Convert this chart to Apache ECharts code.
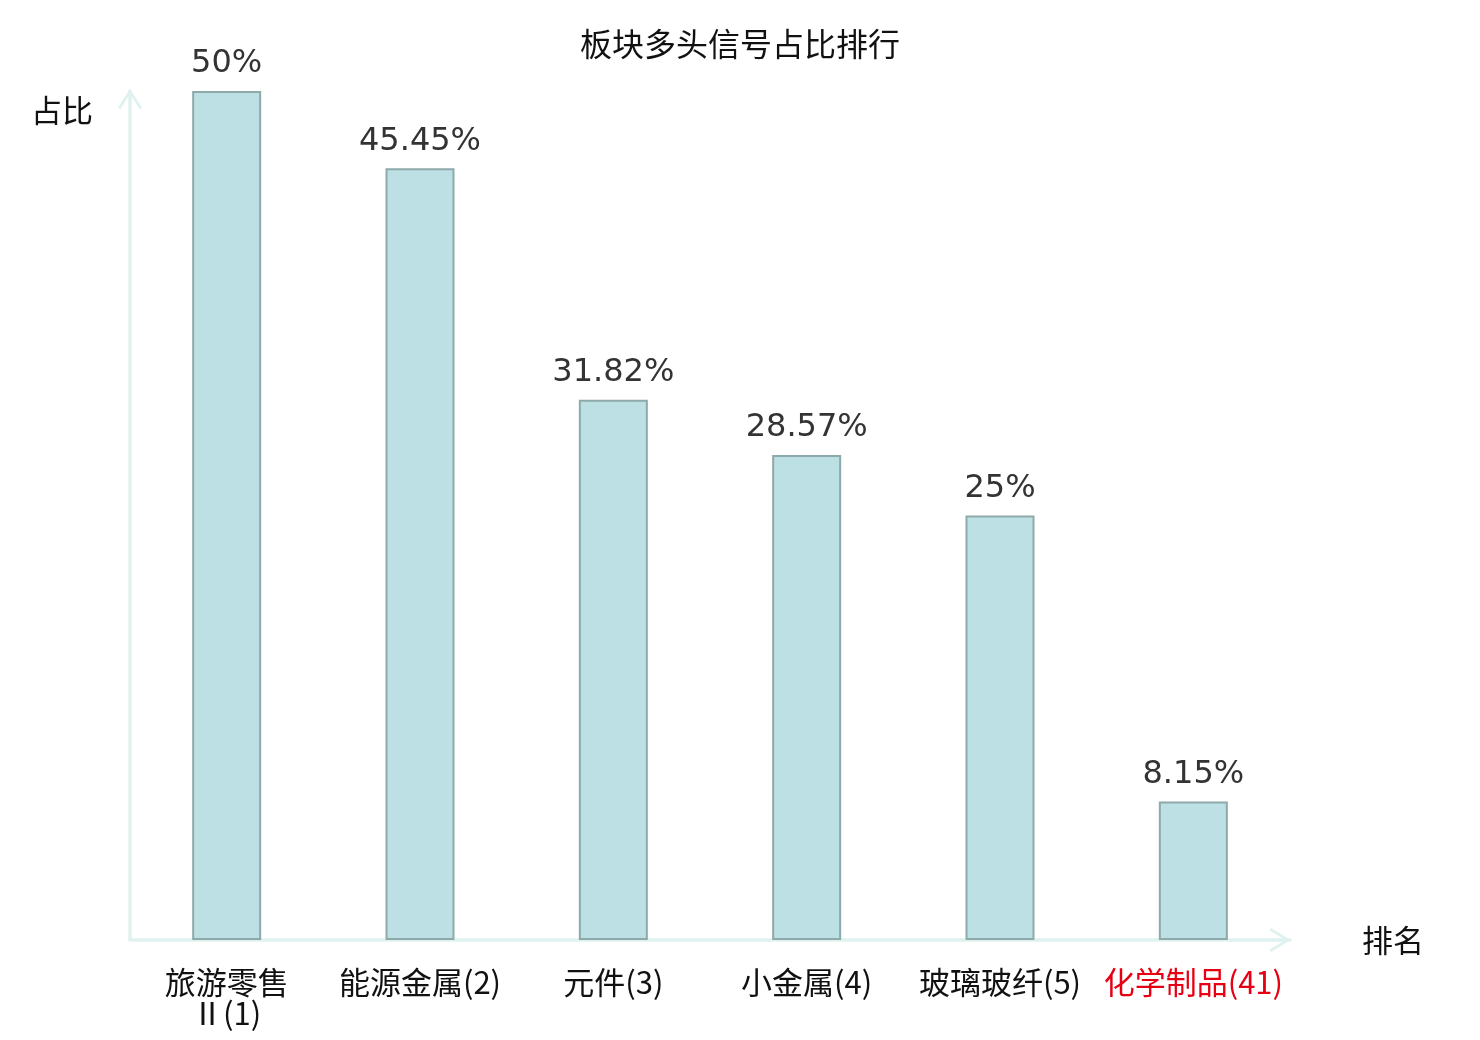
<!DOCTYPE html>
<html>
<head>
<meta charset="utf-8">
<script src="https://cdn.jsdelivr.net/npm/echarts@6/dist/echarts.min.js"></script>
<style>html,body{margin:0;padding:0;background:#fff}#c{width:1480px;height:1040px}</style>
</head>
<body>
<div id="c"></div>
<script>
const titleText = '板块多头信号占比排行';
const categories = ['旅游零售Ⅱ(1)', '能源金属(2)', '元件(3)', '小金属(4)', '玻璃玻纤(5)', '化学制品(41)'];
const values = [50, 45.45, 31.82, 28.57, 25, 8.15];
const highlightIndex = 5;
const yName = '占比';
const xName = '排名';

const chevron = 'path://M12,0 L24,19 L21.6,20.6 L12,5 L2.4,20.6 L0,19 Z';
const cjk = '"Noto Sans CJK SC", "Noto Sans", sans-serif';

const chart = echarts.init(document.getElementById('c'));
chart.setOption({
  animation: false,
  backgroundColor: '#fff',
  title: {
    text: titleText,
    left: 'center',
    top: 23,
    textStyle: { fontFamily: cjk, fontSize: 32, fontWeight: 'normal', color: '#111' }
  },
  grid: { left: 130, right: 190, top: 91, bottom: 100 },
  xAxis: {
    type: 'category',
    data: categories.map((c, i) => i === highlightIndex
      ? { value: c, textStyle: { color: '#e60012' } }
      : c),
    name: xName,
    nameLocation: 'end',
    nameGap: 72,
    nameTextStyle: { fontFamily: cjk, fontSize: 31, color: '#111' },
    axisLine: {
      show: true,
      symbol: ['none', chevron],
      symbolSize: [24, 21],
      symbolOffset: [0, -10],
      lineStyle: { color: '#dff2ef', width: 3.5 }
    },
    axisTick: { show: false },
    axisLabel: {
      interval: 0,
      margin: 27,
      fontFamily: cjk,
      fontSize: 31,
      lineHeight: 31,
      color: '#111',
      formatter: v => v.replace('Ⅱ', '\nⅡ')
    }
  },
  yAxis: {
    type: 'value',
    min: 0,
    max: 50,
    name: yName,
    nameLocation: 'end',
    nameGap: -19,
    nameTextStyle: { fontFamily: cjk, fontSize: 31, color: '#111', align: 'right', verticalAlign: 'middle', padding: [0, 37, 0, 0] },
    axisLine: {
      show: true,
      symbol: ['none', chevron],
      symbolSize: [24, 21],
      symbolOffset: [0, -8],
      lineStyle: { color: '#dff2ef', width: 3.5 }
    },
    axisTick: { show: false },
    axisLabel: { show: false },
    splitLine: { show: false }
  },
  series: [{
    type: 'bar',
    data: values,
    barWidth: 69,
    itemStyle: { color: '#bce0e3', borderColor: '#8ea9aa', borderWidth: 2 },
    label: {
      show: true,
      position: 'top',
      distance: 11,
      formatter: p => p.value + '%',
      fontFamily: '"DejaVu Sans", sans-serif',
      fontSize: 32,
      color: '#333'
    }
  }]
});
</script>
</body>
</html>
